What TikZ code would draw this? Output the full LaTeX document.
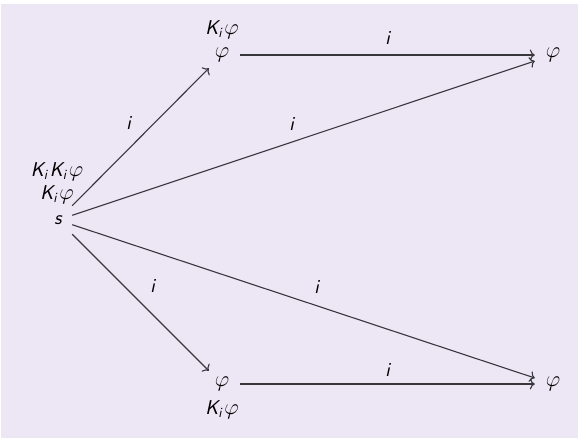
\RequirePackage{fix-cm}
\documentclass[tikz,border=0pt]{standalone}
\usepackage{amsmath}
\usetikzlibrary{arrows.meta}
\newcommand{\sK}{\textsf{\slshape K}}
\newcommand{\si}{\textsf{\slshape i}}
\newcommand{\sS}{\textsf{\slshape s}}
\newcommand{\vp}{\mbox{\scalebox{1.12}{$\varphi$}}}
\newcommand{\gp}{\mspace{2mu}}
\definecolor{bglav}{RGB}{236,230,245}
\definecolor{edgecol}{RGB}{55,55,60}
\tikzset{
  fnt/.style={font=\fontsize{20}{24}\selectfont},
  nd/.style={fnt, inner sep=0pt, minimum width=36pt, minimum height=26pt},
  snode/.style={fnt, inner sep=0pt, minimum width=28pt, minimum height=28pt},
  lab/.style={fnt, inner sep=0pt},
  el/.style={fnt, inner sep=0pt},
  arr/.style={draw=edgecol, line width=1.1pt, -{To[length=5pt,width=11pt]}}
}
\begin{document}
\begin{tikzpicture}[x=1pt,y=-1pt]
\useasboundingbox (0,0) rectangle (583,442);
\fill[white] (0,0) rectangle (583,442);
\fill[bglav] (1,4) rectangle (578,438);
\node[snode] (s) at (58,220) {$\sS$};
\node[lab] (kk) at (57,172) {$\sK_{\si}\gp\sK_{\si}\gp\vp$};
\node[lab] (k0) at (57,195) {$\sK_{\si}\gp\vp$};
\node[nd] (a) at (222,55) {$\vp$};
\node[lab] (ka) at (222,30) {$\sK_{\si}\gp\vp$};
\node[nd] (b) at (553,55) {$\vp$};
\node[nd] (c) at (222,384) {$\vp$};
\node[lab] (kc) at (222,410) {$\sK_{\si}\gp\vp$};
\node[nd] (d) at (553,384) {$\vp$};
\draw[arr] (s) -- node[el, midway, shift={(-12,-14)}] {$\si$} (a);
\draw[arr] (s) -- node[el, midway, shift={(-12,-14)}] {$\si$} (b);
\draw[arr] (s) -- node[el, midway, shift={(13,-14)}] {$\si$} (d);
\draw[arr] (s) -- node[el, midway, shift={(12,-16)}] {$\si$} (c);
\draw[arr] (a) -- node[el, midway, shift={(0,-17)}] {$\si$} (b);
\draw[arr] (c) -- node[el, midway, shift={(0,-14)}] {$\si$} (d);
\end{tikzpicture}
\end{document}
